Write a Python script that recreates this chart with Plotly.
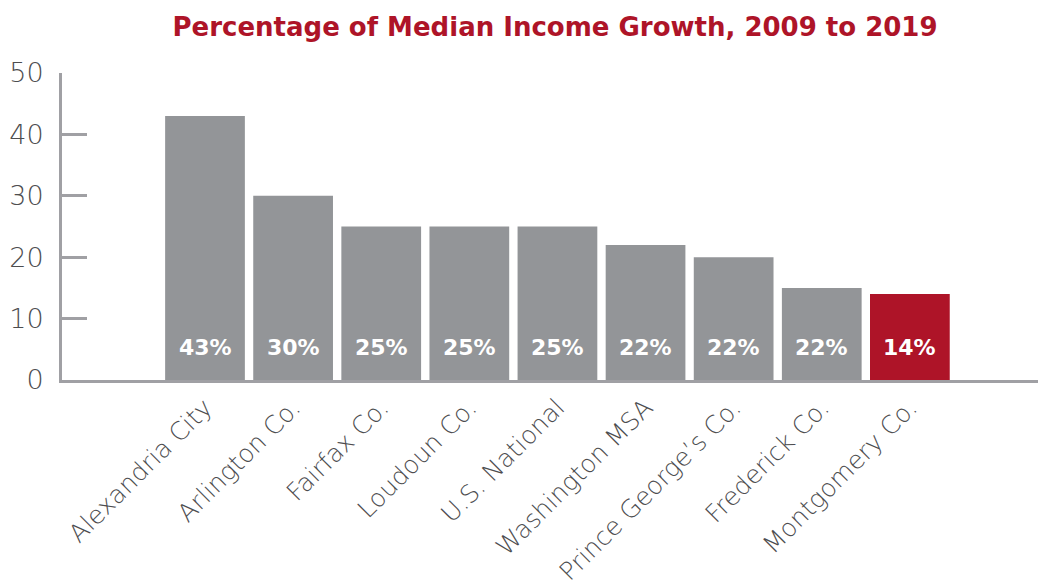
import plotly.graph_objects as go

categories = ["Alexandria City", "Arlington Co.", "Fairfax Co.", "Loudoun Co.", "U.S. National",
              "Washington MSA", "Prince George\u2019s Co.", "Frederick Co.", "Montgomery Co."]
values = [43, 30, 25, 25, 25, 22, 20, 15, 14]
labels = ["43%", "30%", "25%", "25%", "25%", "22%", "22%", "22%", "14%"]
highlight = "Montgomery Co."
y_ticks = [0, 10, 20, 30, 40, 50]

GRAY = "#939598"
RED = "#ae1428"
TXT = "#4d4d4f"
colors = [RED if c == highlight else GRAY for c in categories]

fig = go.Figure()
fig.add_trace(go.Bar(
    x=list(range(len(categories))), y=values, marker_color=colors, marker_line_width=0,
    width=0.905, hoverinfo="skip",
))

for i, lab in enumerate(labels):
    fig.add_annotation(x=i, y=0, text=lab, showarrow=False, yanchor="middle", yshift=33,
                       font=dict(family="DejaVu Sans", size=22, color="white", weight=700))

fig.update_layout(
    width=1038, height=579,
    margin=dict(l=54, r=0, t=65, b=207, autoexpand=False),
    plot_bgcolor="white", paper_bgcolor="white",
    showlegend=False,
    title=dict(text="Percentage of Median Income Growth, 2009 to 2019",
               x=0.527, xanchor="center", y=0.967, yanchor="middle",
               font=dict(family="DejaVu Sans", size=26, color=RED, weight=700)),
    xaxis=dict(range=[-1.623, 9.545], tickmode="array", tickvals=list(range(len(categories))),
               ticktext=categories, tickangle=-45, showgrid=False, zeroline=False,
               showline=True, linecolor="#a0a0a4", linewidth=3, ticks="", automargin=False,
               tickfont=dict(family="DejaVu Sans", size=25, color=TXT, weight=200)),
    yaxis=dict(range=[0, 50], tickmode="array", tickvals=y_ticks, showgrid=False, zeroline=False,
               showline=True, linecolor="#a0a0a4", linewidth=3, ticks="inside", ticklen=25,
               tickwidth=3, tickcolor="#a0a0a4", ticklabelstandoff=10, automargin=False,
               tickfont=dict(family="DejaVu Sans", size=27, color=TXT, weight=200)),
)
fig.write_html("out.html")
